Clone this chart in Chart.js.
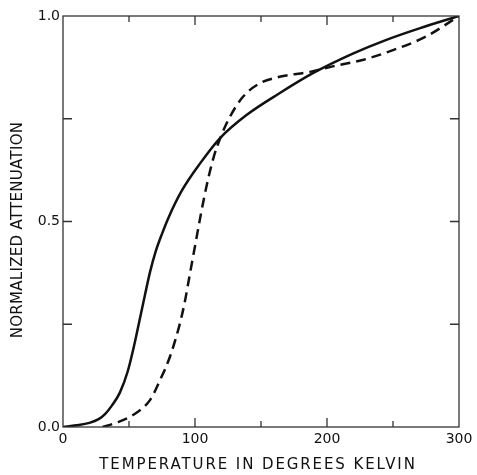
<!DOCTYPE html>
<html>
<head>
<meta charset="utf-8">
<script src="https://cdn.jsdelivr.net/npm/chart.js@4.4.1/dist/chart.umd.min.js"></script>
<style>
  body { margin: 0; background: #fff; }
  #wrap { width: 477px; height: 475px; position: relative; }
</style>
</head>
<body>
<div id="wrap"><canvas id="attenChart"></canvas></div>
<script>
// --- Data ---
const solidTemps = [0, 10, 20, 27, 32, 37, 43, 49, 54, 58, 62, 66, 70, 75, 80, 90, 104, 119, 139, 164, 190, 220, 245, 270, 300];
const solidAtten = [0, 0.004, 0.01, 0.019, 0.032, 0.052, 0.083, 0.135, 0.2, 0.26, 0.32, 0.378, 0.425, 0.47, 0.51, 0.575, 0.642, 0.703, 0.759, 0.812, 0.862, 0.909, 0.942, 0.97, 1.0];

const dashedTemps = [30, 40, 53, 66, 73.5, 81, 88, 92, 96, 100, 104, 109, 114, 120, 126.5, 136.5, 149, 164, 187, 205, 227, 250, 275, 300];
const dashedAtten = [0, 0.01, 0.029, 0.066, 0.114, 0.171, 0.245, 0.3, 0.37, 0.44, 0.51, 0.59, 0.655, 0.71, 0.755, 0.804, 0.836, 0.852, 0.864, 0.878, 0.893, 0.917, 0.95, 1.0];

const xTickMarks = [50, 100, 150, 200, 250];
const xMajorMarks = [100, 200];
const yTickMarks = [0.25, 0.5, 0.75];

const xTitle = 'TEMPERATURE IN DEGREES KELVIN';
const yTitle = 'NORMALIZED ATTENUATION';

const inkColor = '#111';
const fontFamily = '"DejaVu Sans", sans-serif';

const toPoints = (xs, ys) => xs.map((x, i) => ({ x: x, y: ys[i] }));

// --- Frame, inward ticks and axis titles ---
const framePlugin = {
    id: 'frameTicks',
    afterDraw(chart) {
        const { ctx, chartArea: a, scales } = chart;
        ctx.save();
        ctx.strokeStyle = '#333';
        ctx.lineWidth = 1.3;
        ctx.strokeRect(a.left, a.top, a.right - a.left, a.bottom - a.top);

        ctx.beginPath();
        xTickMarks.forEach(v => {
            const px = scales.x.getPixelForValue(v);
            const len = xMajorMarks.includes(v) ? 9 : 6;
            ctx.moveTo(px, a.bottom); ctx.lineTo(px, a.bottom - len);
            ctx.moveTo(px, a.top); ctx.lineTo(px, a.top + len);
        });
        yTickMarks.forEach(v => {
            const py = scales.y.getPixelForValue(v);
            ctx.moveTo(a.left, py); ctx.lineTo(a.left + 9, py);
            ctx.moveTo(a.right, py); ctx.lineTo(a.right - 9, py);
        });
        ctx.stroke();

        // axis titles
        ctx.fillStyle = inkColor;
        ctx.font = '15px ' + fontFamily;
        ctx.textAlign = 'center';
        ctx.textBaseline = 'middle';
        ctx.letterSpacing = '1.9px';
        ctx.fillText(xTitle, (a.left + a.right) / 2 - 3, 465);

        ctx.letterSpacing = '0.3px';
        ctx.translate(18, 230);
        ctx.rotate(-Math.PI / 2);
        ctx.fillText(yTitle, 0, 0);
        ctx.restore();
    }
};

const ctxAtten = document.getElementById('attenChart').getContext('2d');
new Chart(ctxAtten, {
    type: 'line',
    data: {
        datasets: [
            {
                label: 'solid',
                data: toPoints(solidTemps, solidAtten),
                borderColor: inkColor,
                borderWidth: 2.5,
                pointRadius: 0,
                fill: false,
                cubicInterpolationMode: 'monotone'
            },
            {
                label: 'dashed',
                data: toPoints(dashedTemps, dashedAtten),
                borderColor: inkColor,
                borderWidth: 2.5,
                borderDash: [10, 6],
                pointRadius: 0,
                fill: false,
                cubicInterpolationMode: 'monotone'
            }
        ]
    },
    options: {
        responsive: true,
        maintainAspectRatio: false,
        animation: false,
        layout: { padding: { top: 16, right: 18, left: 0, bottom: 0 } },
        plugins: {
            legend: { display: false },
            tooltip: { enabled: false }
        },
        scales: {
            x: {
                type: 'linear',
                min: 0,
                max: 300,
                grid: { display: false, drawTicks: false },
                border: { display: false },
                ticks: {
                    stepSize: 100,
                    padding: 4,
                    color: inkColor,
                    font: { family: fontFamily, size: 14 },
                    maxRotation: 0
                },
                afterFit(scale) { scale.height = 48; }
            },
            y: {
                min: 0,
                max: 1,
                grid: { display: false, drawTicks: false },
                border: { display: false },
                ticks: {
                    stepSize: 0.5,
                    padding: 3,
                    color: inkColor,
                    font: { family: fontFamily, size: 14 },
                    callback: v => v.toFixed(1)
                },
                afterFit(scale) { scale.width = 63; }
            }
        }
    },
    plugins: [framePlugin]
});
</script>
</body>
</html>
